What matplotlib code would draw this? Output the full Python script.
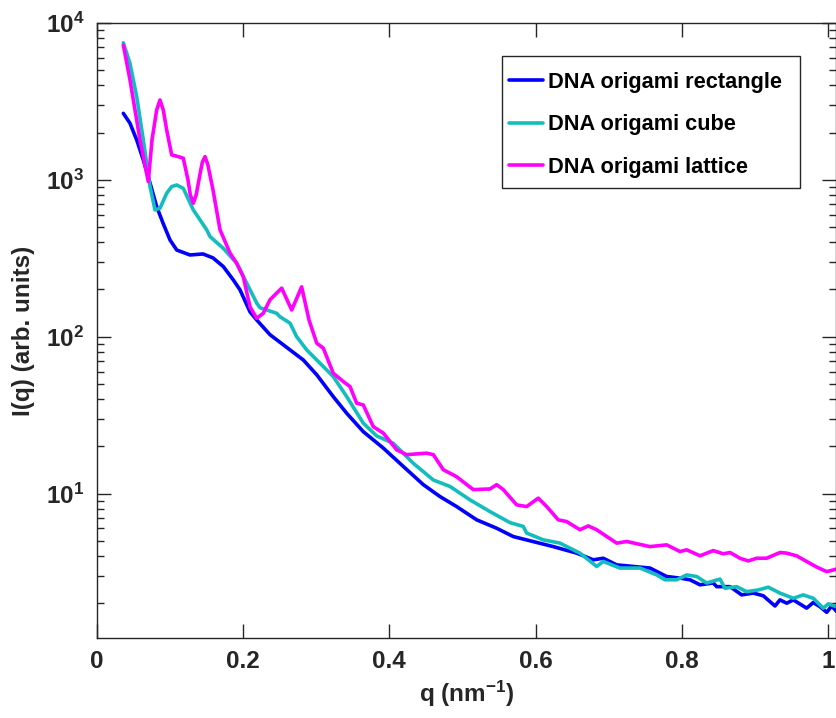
import matplotlib
matplotlib.use("Agg")
import matplotlib.pyplot as plt
from matplotlib.ticker import LogLocator, NullFormatter, FixedLocator
from matplotlib.patches import Rectangle

plt.rcParams['font.family'] = ['Liberation Sans', 'DejaVu Sans']
plt.rcParams['font.weight'] = 'bold'
plt.rcParams['mathtext.fontset'] = 'custom'
plt.rcParams['mathtext.rm'] = 'Liberation Sans:bold'
plt.rcParams['mathtext.bf'] = 'Liberation Sans:bold'
plt.rcParams['mathtext.it'] = 'Liberation Sans:bold'
plt.rcParams['mathtext.default'] = 'regular'

labels = ["DNA origami rectangle", "DNA origami cube", "DNA origami lattice"]
colors = ["#0000ff", "#14bdbd", "#ff00ff"]

q_rect = [0.0364, 0.0455, 0.0547, 0.0637, 0.0729, 0.0820, 0.0906, 0.1002, 0.1094, 0.1275,
          0.1453, 0.1590, 0.1731, 0.1868, 0.1959, 0.2096, 0.2187, 0.2369, 0.2643, 0.2824,
          0.3008, 0.3234, 0.3418, 0.3645, 0.3918,
          0.4191, 0.4465, 0.4693, 0.4921, 0.5195, 0.5468, 0.5695, 0.5969, 0.6242, 0.6562,
          0.6789, 0.6925, 0.7109, 0.7336, 0.7564, 0.7792, 0.7974, 0.8111, 0.8248, 0.8429,
          0.8476, 0.8658, 0.8817, 0.8976, 0.9113, 0.9273, 0.9341, 0.9433, 0.9523, 0.9706,
          0.9796, 0.9888, 0.9980, 1.0048, 1.0116]
I_rect = [2655, 2296, 1795, 1340, 955, 675, 531, 414, 357, 332,
          337, 318, 280, 230, 199, 144, 128, 103, 82.4, 71.1,
          57.2, 41.5, 32.5, 24.8, 19.5,
          14.9, 11.4, 9.57, 8.26, 6.80, 6.01, 5.32, 4.94, 4.59, 4.17,
          3.78, 3.87, 3.51, 3.43, 3.35, 2.96, 2.89, 2.82, 2.62, 2.69,
          2.55, 2.55, 2.26, 2.32, 2.23, 1.92, 2.10, 2.00, 2.10, 1.86,
          2.02, 1.90, 1.75, 1.92, 1.77]

q_cube = [0.0364, 0.0455, 0.0547, 0.0637, 0.0729, 0.0797, 0.0865, 0.0957, 0.1025, 0.1094,
          0.1184, 0.1321, 0.1504, 0.1549, 0.1731, 0.1914, 0.2187, 0.2232, 0.2461, 0.2506,
          0.2643, 0.2734, 0.2871, 0.3008, 0.3234, 0.3418, 0.3645, 0.3828, 0.4055, 0.4328,
          0.4602, 0.4830, 0.5103, 0.5377, 0.5650, 0.5832, 0.5878, 0.6105, 0.6334, 0.6607,
          0.6835, 0.6925, 0.7154, 0.7427, 0.7656, 0.7769, 0.7929, 0.8066, 0.8202, 0.8339,
          0.8521, 0.8589, 0.8749, 0.8886, 0.9044, 0.9181, 0.9341, 0.9523, 0.9659, 0.9796,
          0.9933, 1.0001, 1.0116]
I_cube = [7480, 5530, 3390, 1795, 906, 643, 659, 822, 906, 927,
          883, 643, 480, 435, 366, 294, 164, 153, 141, 134,
          122, 100, 82.4, 71.1, 55.7, 41.5, 28.1, 23.3, 20.9, 15.6,
          12.2, 11.1, 9.12, 7.67, 6.53, 6.17, 5.60, 5.07, 4.83, 4.17,
          3.43, 3.69, 3.35, 3.35, 3.03, 2.82, 2.82, 3.03, 2.96, 2.69,
          2.85, 2.49, 2.55, 2.37, 2.43, 2.53, 2.32, 2.15, 2.26, 2.15,
          1.86, 1.98, 1.90]

q_latt = [0.0364, 0.0455, 0.0592, 0.0705, 0.0756, 0.0820, 0.0865, 0.0910, 0.0957, 0.1025,
          0.1116, 0.1184, 0.1248, 0.1280, 0.1321, 0.1360, 0.1410, 0.1445, 0.1481, 0.1520,
          0.1590, 0.1686, 0.1822, 0.1914, 0.2004, 0.2096, 0.2187,
          0.2277, 0.2369, 0.2529, 0.2666, 0.2802, 0.2902, 0.3008, 0.3098, 0.3234, 0.3371,
          0.3463, 0.3554, 0.3645, 0.3781, 0.3918, 0.4101, 0.4238, 0.4511, 0.4602, 0.4738,
          0.4921, 0.5148, 0.5377, 0.5468, 0.5558, 0.5742, 0.5878, 0.6037, 0.6152, 0.6310,
          0.6425, 0.6607, 0.6720, 0.6835, 0.7109, 0.7245, 0.7564, 0.7792, 0.7974, 0.8066,
          0.8248, 0.8429, 0.8566, 0.8658, 0.8794, 0.8908, 0.9023, 0.9159, 0.9341, 0.9433,
          0.9569, 0.9706, 0.9843, 0.9980, 1.0116]
I_latt = [7240, 4340, 1795, 975, 1795, 2790, 3230, 2790, 2080, 1442,
          1406, 1374, 998, 802, 710, 802, 1074, 1300, 1406, 1245,
          863, 480, 342, 294, 241, 155, 131,
          141, 172, 204, 148, 208, 128, 91.0, 84.5, 58.5, 51.8,
          48.1, 37.7, 36.7, 26.7, 24.3, 19.0, 17.7, 18.1, 17.7, 14.2,
          12.8, 10.6, 10.7, 11.4, 10.6, 8.47, 8.26, 9.35, 8.26, 6.80,
          6.63, 5.88, 6.22, 5.88, 4.83, 4.95, 4.59, 4.71, 4.27, 4.38,
          4.01, 4.33, 4.13, 4.21, 3.87, 3.72, 3.87, 3.87, 4.21, 4.17,
          4.01, 3.69, 3.40, 3.18, 3.30]

x_ticks = [0, 0.2, 0.4, 0.6, 0.8, 1.0]
x_ticklabels = ["0", "0.2", "0.4", "0.6", "0.8", "1"]

fig = plt.figure(figsize=(8.37, 7.18), dpi=100)
ax = fig.add_axes([96.7 / 837, 1 - 638 / 718, (836 - 96.7) / 837, (638 - 23) / 718])

axc = (0.15, 0.15, 0.15)
for q, I, lab, c in zip([q_rect, q_cube, q_latt], [I_rect, I_cube, I_latt], labels, colors):
    ax.plot(q, I, color=c, lw=2.6, label=lab, solid_joinstyle='round', solid_capstyle='round')

ax.set_yscale('log')
ax.set_xlim(0, 1.0107)
ax.set_ylim(1.2, 1e4)
ax.xaxis.set_major_locator(FixedLocator(x_ticks))
ax.set_xticklabels(x_ticklabels)
ax.yaxis.set_major_locator(LogLocator(base=10, numticks=10))
ax.yaxis.set_minor_locator(LogLocator(base=10, subs=range(2, 10), numticks=20))
ax.yaxis.set_minor_formatter(NullFormatter())

ax.tick_params(which='both', direction='in', top=True, right=True, colors=axc,
               labelcolor=(0.15, 0.15, 0.15), labelsize=17.5, width=1.0)
ax.tick_params(which='major', length=10)
ax.tick_params(which='minor', length=5)
ax.tick_params(axis='x', pad=9)
ax.tick_params(axis='y', pad=9)
for s in ax.spines.values():
    s.set_color(axc)
    s.set_linewidth(1.0)

ax.set_xlabel(r"q (nm$^{-1}$)", fontsize=17.5, fontweight='bold', color=(0.15, 0.15, 0.15), labelpad=4)
ax.set_ylabel("I(q) (arb. units)", fontsize=17.5, fontweight='bold', color=(0.15, 0.15, 0.15), labelpad=8)

# legend frame drawn as a rectangle (in figure coordinates) inside the axes' artist list
frame = Rectangle((501.7 / 837, 1 - 188 / 718), (800 - 501.7) / 837, (188 - 56) / 718,
                  transform=fig.transFigure, facecolor='white', edgecolor=axc,
                  linewidth=1.0, zorder=4, clip_on=False)
ax.add_patch(frame)
leg = ax.legend(loc='upper left', bbox_to_anchor=(509 / 837, 1 - 72 / 718),
                bbox_transform=fig.transFigure, fontsize=15.7, frameon=False,
                borderpad=0, labelspacing=0.98, handlelength=1.55, handletextpad=0.25,
                borderaxespad=0)
leg.set_zorder(6)
for t in leg.get_texts():
    t.set_fontweight('bold')
    t.set_color('black')
for h in leg.get_lines():
    h.set_linewidth(2.6)

fig.savefig("out.png", dpi=100)
